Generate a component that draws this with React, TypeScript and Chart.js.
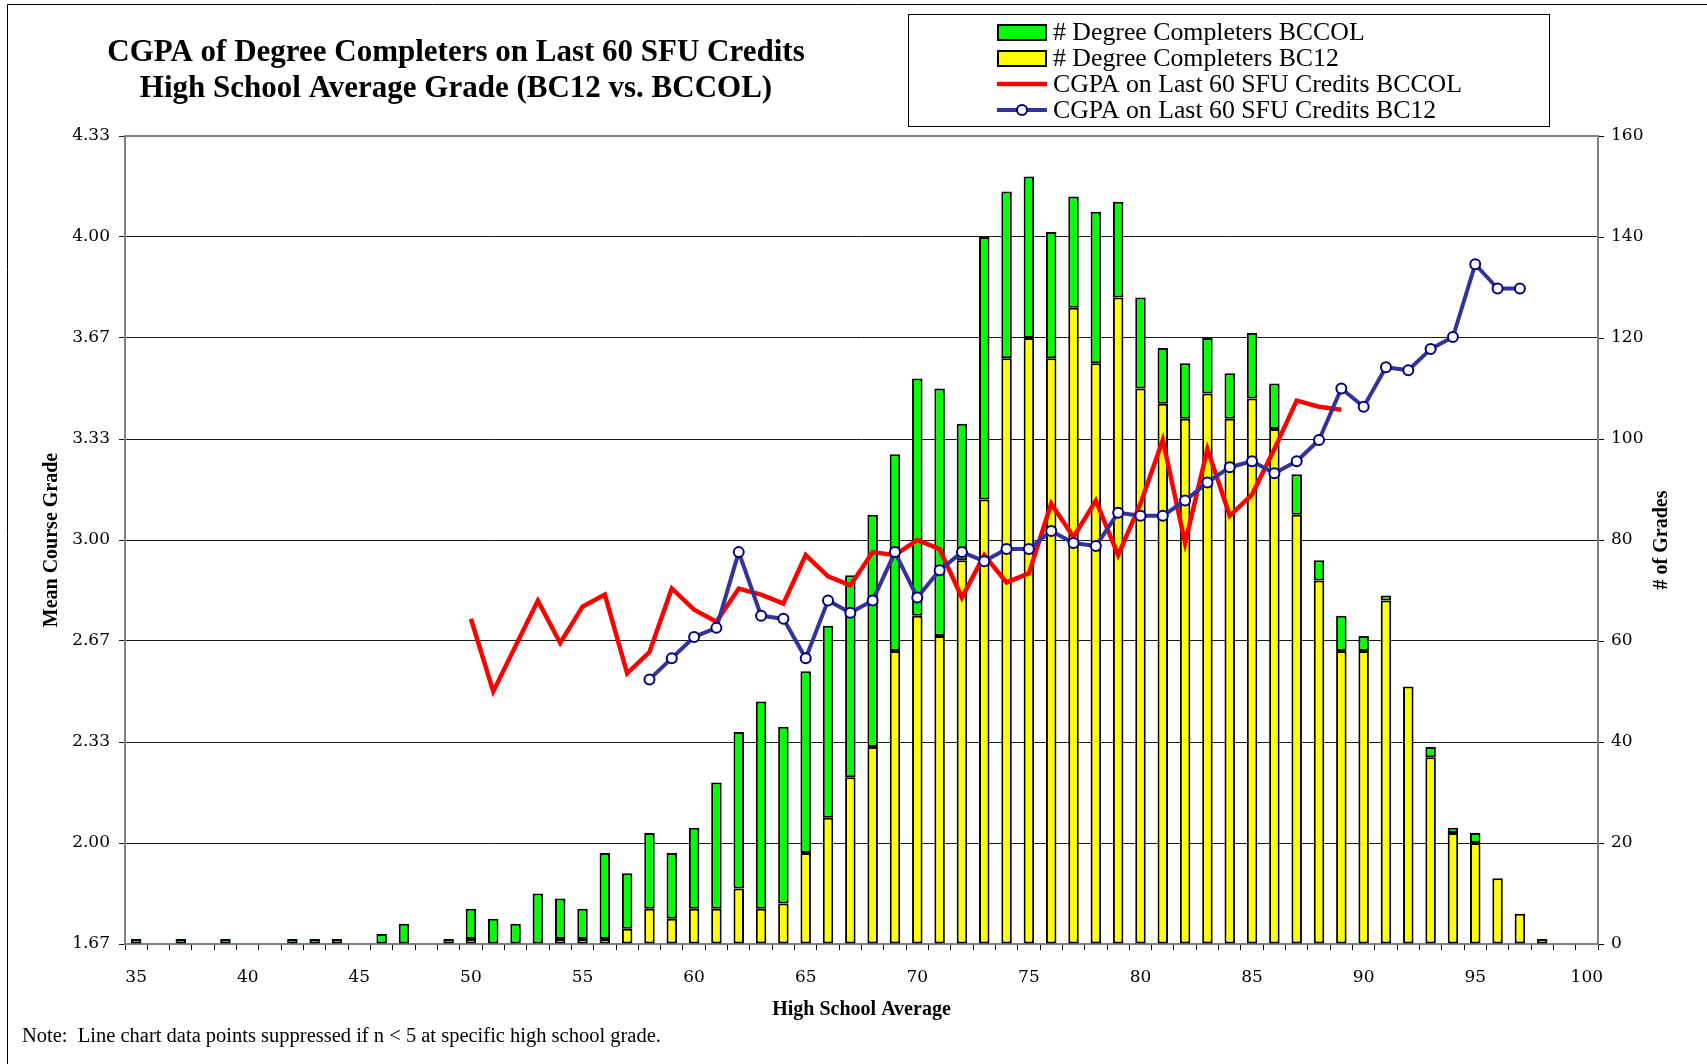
import React, { useEffect, useRef } from 'react';
import { Chart, registerables } from 'chart.js';

Chart.register(...registerables);

// ---------------- DATA ----------------
const hsAverage = [
  '35', '36', '37', '38', '39', '40', '41', '42', '43', '44',
  '45', '46', '47', '48', '49', '50', '51', '52', '53', '54',
  '55', '56', '57', '58', '59', '60', '61', '62', '63', '64',
  '65', '66', '67', '68', '69', '70', '71', '72', '73', '74',
  '75', '76', '77', '78', '79', '80', '81', '82', '83', '84',
  '85', '86', '87', '88', '89', '90', '91', '92', '93', '94',
  '95', '96', '97', '98', '99', '100',
];

// # Degree Completers BC12 (yellow, bottom of stack)
const bc12Counts = [
  0, 0, 0, 0, 0, 0, 0, 0, 0, 0,
  0, 0, 0, 0, 0, 1, 0, 0, 0, 1,
  1, 1, 3, 7, 5, 7, 7, 11, 7, 8,
  18, 25, 33, 39, 58, 65, 61, 76, 88, 116,
  120, 116, 126, 115, 128, 110, 107, 104, 109, 104,
  108, 102, 85, 72, 58, 58, 68, 51, 37, 22,
  20, 13, 6, 1, 0, 0,
];

// # Degree Completers BCCOL (green, top of stack)
const bccolCounts = [
  1, 0, 1, 0, 1, 0, 0, 1, 1, 1,
  0, 2, 4, 0, 1, 6, 5, 4, 10, 8,
  6, 17, 11, 15, 13, 16, 25, 31, 41, 35,
  36, 38, 40, 46, 39, 47, 49, 27, 52, 33,
  32, 25, 22, 30, 19, 18, 11, 11, 11, 9,
  13, 9, 8, 4, 7, 3, 1, 0, 2, 1,
  2, 0, 0, 0, 0, 0,
];

// CGPA on Last 60 SFU Credits BCCOL (red line)
const bccolCgpa = [
  null, null, null, null, null, null, null, null, null, null,
  null, null, null, null, null, 2.74, 2.50, 2.65, 2.80, 2.66,
  2.78, 2.82, 2.56, 2.63, 2.84, 2.77, 2.73, 2.84, 2.82, 2.79,
  2.95, 2.88, 2.85, 2.96, 2.95, 3.00, 2.97, 2.81, 2.95, 2.86,
  2.89, 3.12, 3.01, 3.13, 2.95, 3.12, 3.33, 2.99, 3.30, 3.08,
  3.15, 3.30, 3.46, 3.44, 3.43, null, null, null, null, null,
  null, null, null, null, null, null,
];

// CGPA on Last 60 SFU Credits BC12 (blue line with markers)
const bc12Cgpa = [
  null, null, null, null, null, null, null, null, null, null,
  null, null, null, null, null, null, null, null, null, null,
  null, null, null, 2.54, 2.61, 2.68, 2.71, 2.96, 2.75, 2.74,
  2.61, 2.80, 2.76, 2.80, 2.96, 2.81, 2.90, 2.96, 2.93, 2.97,
  2.97, 3.03, 2.99, 2.98, 3.09, 3.08, 3.08, 3.13, 3.19, 3.24,
  3.26, 3.22, 3.26, 3.33, 3.50, 3.44, 3.57, 3.56, 3.63, 3.67,
  3.91, 3.83, 3.83, null, null, null,
];

const gradeTicks = [1.6667, 2.0, 2.3333, 2.6667, 3.0, 3.3333, 3.6667, 4.0, 4.3333];
const countTicks = [0, 20, 40, 60, 80, 100, 120, 140, 160];

const titleLines = [
  'CGPA of Degree Completers on Last 60 SFU Credits',
  'High School Average Grade (BC12 vs. BCCOL)',
];
const noteText = 'Note:  Line chart data points suppressed if n < 5 at specific high school grade.';
const xTitle = 'High School Average';
const yLeftTitle = 'Mean Course Grade';
const yRightTitle = '# of Grades';

// ---------------- STYLE ----------------
const W = 1707;
const H = 1064;
const AREA = { left: 125, right: 1598, top: 136, bottom: 944 };
const LEFT_W = 80;
const RIGHT_W = 60;
const X_H = 50;
const TICK_FONT = { family: '"DejaVu Serif", serif', size: 17 };
const SERIF = '"Liberation Serif", "Times New Roman", serif';

const decorPlugin = {
  id: 'decor',
  beforeDraw(chart: any) {
    const ctx = chart.ctx;
    ctx.save();
    ctx.fillStyle = '#ffffff';
    ctx.fillRect(0, 0, W, H);
    ctx.strokeStyle = '#000';
    ctx.lineWidth = 1;
    ctx.beginPath();
    ctx.moveTo(7.5, H + 5);
    ctx.lineTo(7.5, 4.5);
    ctx.lineTo(W + 5, 4.5);
    ctx.stroke();
    ctx.restore();
  },
  beforeDatasetsDraw(chart: any) {
    const { ctx, chartArea: a } = chart;
    ctx.save();
    ctx.strokeStyle = '#808080';
    ctx.lineWidth = 2;
    ctx.strokeRect(a.left, a.top, a.right - a.left, a.bottom - a.top);
    ctx.restore();
  },
  afterDraw(chart: any) {
    const { ctx, chartArea: a } = chart;
    ctx.save();
    ctx.fillStyle = '#000';
    // Title
    ctx.font = `bold 31px ${SERIF}`;
    ctx.textAlign = 'center';
    ctx.textBaseline = 'alphabetic';
    ctx.fillText(titleLines[0], 456, 61);
    ctx.fillText(titleLines[1], 456, 97);

    // Axis titles
    ctx.font = `bold 20px ${SERIF}`;
    ctx.textBaseline = 'middle';
    ctx.fillText(xTitle, (a.left + a.right) / 2, 1010);
    const midY = (a.top + a.bottom) / 2;
    ctx.save();
    ctx.translate(52, midY);
    ctx.rotate(-Math.PI / 2);
    ctx.fillText(yLeftTitle, 0, 0);
    ctx.restore();
    ctx.save();
    ctx.translate(1662, midY);
    ctx.rotate(-Math.PI / 2);
    ctx.fillText(yRightTitle, 0, 0);
    ctx.restore();

    // Note
    ctx.font = `20.5px ${SERIF}`;
    ctx.textAlign = 'left';
    ctx.fillText(noteText, 22, 1037);

    // Legend
    ctx.strokeStyle = '#000';
    ctx.lineWidth = 1;
    ctx.strokeRect(908.5, 14.5, 641, 112);
    const ds = chart.data.datasets;
    const legendOrder = [1, 0, 2, 3];
    const rowY = [32, 58, 84, 110];
    ctx.font = `25.8px ${SERIF}`;
    ctx.textAlign = 'left';
    ctx.textBaseline = 'middle';
    legendOrder.forEach((di, i) => {
      const d = ds[di];
      const y = rowY[i];
      const x0 = 997;
      const x1 = 1047;
      if (d.type === 'line') {
        ctx.strokeStyle = d.borderColor;
        ctx.lineWidth = d.borderWidth;
        ctx.beginPath();
        ctx.moveTo(x0, y);
        ctx.lineTo(x1, y);
        ctx.stroke();
        if (d.pointRadius > 0) {
          ctx.beginPath();
          ctx.arc((x0 + x1) / 2, y, d.pointRadius, 0, Math.PI * 2);
          ctx.fillStyle = d.pointBackgroundColor;
          ctx.fill();
          ctx.lineWidth = d.pointBorderWidth;
          ctx.strokeStyle = d.pointBorderColor;
          ctx.stroke();
        }
      } else {
        ctx.fillStyle = d.backgroundColor;
        ctx.fillRect(x0 + 1, y - 7, x1 - x0 - 2, 15);
        ctx.strokeStyle = '#000';
        ctx.lineWidth = 2;
        ctx.strokeRect(x0 + 1, y - 7, x1 - x0 - 2, 15);
      }
      ctx.fillStyle = '#000';
      ctx.fillText(d.label, 1053, y + 1);
    });
    ctx.restore();
  },
};

export default function App() {
  const ref = useRef<HTMLCanvasElement | null>(null);

  useEffect(() => {
    document.body.style.overflow = 'hidden';
    const canvas = ref.current;
    if (!canvas) return;
    const chart = new Chart(canvas, {
      type: 'bar',
      data: {
        labels: hsAverage,
        datasets: [
          {
            type: 'bar',
            label: '# Degree Completers BC12',
            data: bc12Counts,
            backgroundColor: '#ffff00',
            borderColor: '#000000',
            borderWidth: 2,
            borderSkipped: false,
            yAxisID: 'y',
            stack: 'count',
            order: 2,
            barPercentage: 0.47,
            categoryPercentage: 1,
          },
          {
            type: 'bar',
            label: '# Degree Completers BCCOL',
            data: bccolCounts,
            backgroundColor: '#00ff00',
            borderColor: '#000000',
            borderWidth: 2,
            borderSkipped: false,
            yAxisID: 'y',
            stack: 'count',
            order: 2,
            barPercentage: 0.47,
            categoryPercentage: 1,
          },
          {
            type: 'line',
            label: 'CGPA on Last 60 SFU Credits BCCOL',
            data: bccolCgpa,
            borderColor: '#ff0000',
            backgroundColor: '#ff0000',
            borderWidth: 4.5,
            pointRadius: 0,
            pointHoverRadius: 0,
            borderJoinStyle: 'miter',
            tension: 0,
            spanGaps: false,
            yAxisID: 'y1',
            order: 1,
          },
          {
            type: 'line',
            label: 'CGPA on Last 60 SFU Credits BC12',
            data: bc12Cgpa,
            borderColor: '#333399',
            backgroundColor: '#333399',
            borderWidth: 4,
            pointRadius: 5,
            pointBackgroundColor: '#ffffff',
            pointBorderColor: '#000080',
            pointBorderWidth: 2,
            borderJoinStyle: 'round',
            tension: 0,
            spanGaps: false,
            yAxisID: 'y1',
            order: 0,
          },
        ] as any,
      },
      options: {
        responsive: false,
        animation: false,
        devicePixelRatio: 1,
        layout: {
          padding: {
            left: AREA.left - LEFT_W,
            right: W - AREA.right - RIGHT_W,
            top: AREA.top,
            bottom: H - AREA.bottom - X_H,
          },
        },
        plugins: {
          legend: { display: false },
          title: { display: false },
          tooltip: { enabled: false },
        },
        scales: {
          x: {
            type: 'category',
            offset: true,
            stacked: true,
            grid: {
              offset: true,
              drawOnChartArea: false,
              drawTicks: true,
              tickLength: 6,
              color: '#000',
              lineWidth: 1,
            },
            border: { display: false },
            ticks: {
              autoSkip: false,
              maxRotation: 0,
              minRotation: 0,
              padding: 17,
              color: '#000',
              font: TICK_FONT,
              callback: function (this: any, _v: any, i: number) {
                const lab = hsAverage[i];
                return Number(lab) % 5 === 0 ? lab : '';
              },
            },
            afterFit: (s: any) => { s.height = X_H; },
          },
          y1: {
            type: 'linear',
            position: 'left',
            min: gradeTicks[0],
            max: gradeTicks[gradeTicks.length - 1],
            grid: {
              drawOnChartArea: true,
              drawTicks: true,
              tickLength: 6,
              color: '#1a1a1a',
              lineWidth: 1,
            },
            border: { display: false },
            ticks: {
              padding: 9,
              color: '#000',
              font: TICK_FONT,
              callback: (v: any) => Number(v).toFixed(2),
            },
            afterBuildTicks: (s: any) => { s.ticks = gradeTicks.map((v) => ({ value: v })); },
            afterFit: (s: any) => { s.width = LEFT_W; },
          },
          y: {
            type: 'linear',
            position: 'right',
            stacked: true,
            min: countTicks[0],
            max: countTicks[countTicks.length - 1],
            grid: {
              drawOnChartArea: false,
              drawTicks: true,
              tickLength: 6,
              color: '#000',
              lineWidth: 1,
            },
            border: { display: false },
            ticks: {
              padding: 7,
              color: '#000',
              font: TICK_FONT,
              stepSize: 20,
            },
            afterBuildTicks: (s: any) => { s.ticks = countTicks.map((v) => ({ value: v })); },
            afterFit: (s: any) => { s.width = RIGHT_W; },
          },
        },
      } as any,
      plugins: [decorPlugin],
    });
    return () => chart.destroy();
  }, []);

  return (
    <canvas
      ref={ref}
      width={W}
      height={H}
      style={{ position: 'fixed', left: 0, top: 0, width: W, height: H }}
    />
  );
}
